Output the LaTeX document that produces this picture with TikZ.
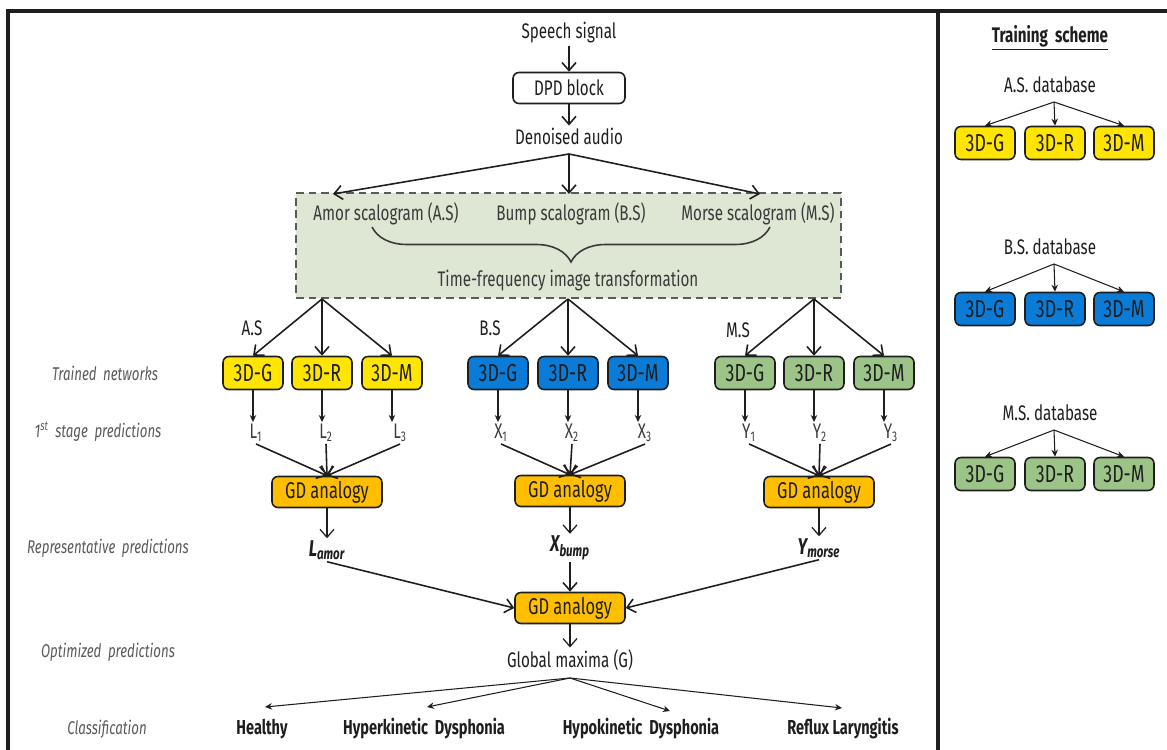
\documentclass[tikz,border=0pt]{standalone}
\usepackage{fontspec}
\setmainfont{Fira Sans}[FakeStretch=0.72]
\usetikzlibrary{arrows.meta,decorations.pathreplacing}

\definecolor{ink}{HTML}{1E1E1E}
\definecolor{soft}{HTML}{3A3A3A}
\definecolor{side}{HTML}{5A5A5A}
\definecolor{boxY}{HTML}{FFE500}
\definecolor{boxB}{HTML}{0A7BD6}
\definecolor{boxG}{HTML}{9CC488}
\definecolor{boxO}{HTML}{FFBF00}
\definecolor{panel}{HTML}{DDE7D3}

\tikzset{
  txt/.style={text=ink, inner sep=1pt, font=\fontsize{12}{14}\selectfont},
  lbl/.style={text=soft, inner sep=1pt, font=\fontsize{12}{14}\selectfont},
  sidelbl/.style={text=side, inner sep=1pt, font=\fontsize{10.5}{12}\selectfont\itshape},
  cls/.style={text=ink, inner sep=1pt, font=\fontsize{11.5}{14}\selectfont\bfseries},
  rep/.style={text=ink, inner sep=1pt, font=\fontsize{13}{15}\selectfont\bfseries\itshape},
  net/.style={draw=ink, line width=0.9pt, rounded corners=1.2mm, minimum width=1.2cm,
    minimum height=0.66cm, inner sep=0pt, text=ink, font=\fontsize{14}{16}\selectfont},
  netY/.style={net, fill=boxY},
  netB/.style={net, fill=boxB},
  netG/.style={net, fill=boxG},
  gdbox/.style={draw=ink, line width=0.9pt, rounded corners=1.2mm, fill=boxO,
    minimum width=2.2cm, minimum height=0.62cm, inner sep=0pt, text=ink,
    font=\fontsize{13}{15}\selectfont},
  dpdbox/.style={draw=ink, line width=0.9pt, rounded corners=1.2mm, fill=white,
    minimum width=2.24cm, minimum height=0.62cm, inner sep=0pt, text=ink,
    font=\fontsize{12}{14}\selectfont},
  arr/.style={draw=ink, line width=0.9pt, -{Straight Barb[length=1.6mm,width=2.8mm]}},
  tarr/.style={draw=ink, line width=0.6pt, -{Stealth[length=1.4mm,width=1.3mm]}},
}

\begin{document}
\begin{tikzpicture}[x=0.02cm, y=-0.02cm]
\useasboundingbox (0,0) rectangle (1167,750);

% outer frame and divider
\draw[ink, line width=2pt] (8,750) -- (8,11) -- (1167,11);
\draw[ink, line width=2pt] (938,11) -- (938,750);

% ---------- main pipeline ----------
\node[txt] (ss) at (569,33) {Speech signal};
\node[dpdbox] (dpd) at (569,88) {DPD block};
\node[txt] (da) at (569,136) {Denoised audio};
\draw[arr] (ss) -- (dpd);
\draw[arr] (dpd) -- (da);

% time-frequency panel
\node[draw=side, dash pattern=on 1.5mm off 1mm, line width=0.8pt, fill=panel,
  minimum width=10.9cm, minimum height=2.1cm] (tf) at (568.5,245.5) {};
\node[lbl] (as) at (386,214) {Amor scalogram (A.S)};
\node[lbl] (bs) at (571,214) {Bump scalogram (B.S)};
\node[lbl] (ms) at (758,214) {Morse scalogram (M.S)};
\draw[soft, line width=0.9pt, decorate, decoration={brace, amplitude=0.7cm}]
  (770,227) -- (372,227);
\node[lbl] (tft) at (568,281) {Time-frequency image transformation};

\coordinate (dsrc) at (569,154);
\coordinate (tA) at (333,194);
\coordinate (tB) at (569,194);
\coordinate (tM) at (760,194);
\draw[arr] (dsrc) -- (tA);
\draw[arr] (dsrc) -- (tB);
\draw[arr] (dsrc) -- (tM);

% fan-out to the trained networks
\coordinate (fa) at (322,299);
\coordinate (fb) at (568,299);
\coordinate (fm) at (814,299);
\node[txt] (labA) at (252,328) {A.S};
\node[txt] (labB) at (490,328) {B.S};
\node[txt] (labM) at (738,330) {M.S};

\node[netY] (AG) at (253,373) {3D-G};
\node[netY] (AR) at (322,373) {3D-R};
\node[netY] (AM) at (392,373) {3D-M};
\node[netB] (BG) at (498,373) {3D-G};
\node[netB] (BR) at (568,373) {3D-R};
\node[netB] (BM) at (638,373) {3D-M};
\node[netG] (MG) at (745,373) {3D-G};
\node[netG] (MR) at (814,373) {3D-R};
\node[netG] (MM) at (884,373) {3D-M};

\foreach \s/\n in {fa/AG, fa/AR, fa/AM, fb/BG, fb/BR, fb/BM, fm/MG, fm/MR, fm/MM}
  \draw[arr] (\s) -- (\n.north);

% first-stage predictions
\node[lbl] (L1) at (256,433) {L\textsubscript{1}};
\node[lbl] (L2) at (326,433) {L\textsubscript{2}};
\node[lbl] (L3) at (400,433) {L\textsubscript{3}};
\node[lbl] (X1) at (501,433) {X\textsubscript{1}};
\node[lbl] (X2) at (572,433) {X\textsubscript{2}};
\node[lbl] (X3) at (645,433) {X\textsubscript{3}};
\node[lbl] (Y1) at (749,433) {Y\textsubscript{1}};
\node[lbl] (Y2) at (820,433) {Y\textsubscript{2}};
\node[lbl] (Y3) at (891,433) {Y\textsubscript{3}};

\foreach \b/\p in {AG/L1, AR/L2, AM/L3, BG/X1, BR/X2, BM/X3, MG/Y1, MR/Y2, MM/Y3}
  \draw[tarr] (\b.south) -- (\b.south |- \p.north);

% group decisions
\node[gdbox] (GA) at (327,492) {GD analogy};
\node[gdbox] (GB) at (570,491) {GD analogy};
\node[gdbox] (GM) at (819,492) {GD analogy};

\foreach \p in {L1, L2, L3} \draw[arr] (\p.south) -- (GA.north);
\foreach \p in {X1, X2, X3} \draw[arr] (\p.south) -- (GB.north);
\foreach \p in {Y1, Y2, Y3} \draw[arr] (\p.south) -- (GM.north);

% representative predictions
\node[rep] (La) at (327,550) {L\textsubscript{amor}};
\node[rep] (Xb) at (570,548) {X\textsubscript{bump}};
\node[rep] (Ym) at (819,548) {Y\textsubscript{morse}};
\draw[arr, line width=0.7pt] (GA.south) -- (La.north);
\draw[arr, line width=0.7pt] (GB.south) -- (Xb.north);
\draw[arr, line width=0.7pt] (GM.south) -- (Ym.north);

% final decision
\node[gdbox] (GF) at (570,608) {GD analogy};
\draw[arr] (La.south) -- (GF.west);
\draw[arr] (Xb.south) -- (GF.north);
\draw[arr] (Ym.south) -- (GF.east);

\node[txt] (gmax) at (570,660) {Global maxima (G)};
\draw[arr, line width=0.7pt] (GF.south) -- (gmax.north);

% classification
\node[cls] (c1) at (262,729) {Healthy};
\node[cls] (c2) at (424,729) {Hyperkinetic\, Dysphonia};
\node[cls] (c3) at (641,729) {Hypokinetic\, Dysphonia};
\node[cls] (c4) at (843,729) {Reflux Laryngitis};
\coordinate (csrc) at (570,678);
\coordinate (k1) at (265,707);
\coordinate (k2) at (427,707);
\coordinate (k3) at (670,711);
\coordinate (k4) at (842,708);
\foreach \k in {k1, k2, k3, k4} \draw[tarr] (csrc) -- (\k);

% stage captions
\node[sidelbl] (s1) at (105,373) {Trained\, networks};
\node[sidelbl] (s2) at (98,432) {1\textsuperscript{st}\, stage\, predictions};
\node[sidelbl] (s3) at (108,548) {Representative\, predictions};
\node[sidelbl] (s4) at (108,652) {Optimized\, predictions};
\node[sidelbl] (s5) at (107,729) {Classification};

% ---------- training scheme ----------
\node[txt, font=\fontsize{12}{14}\selectfont\bfseries] (ts) at (1050,38) {\underline{Training\, scheme}};

\node[txt] (dbA) at (1050,85) {A.S. database};
\coordinate (sA) at (1054,102);
\node[netY] (TAG) at (985,143) {3D-G};
\node[netY] (TAR) at (1055,143) {3D-R};
\node[netY] (TAM) at (1124,143) {3D-M};

\node[txt] (dbB) at (1050,247) {B.S. database};
\coordinate (sB) at (1054,264);
\node[netB] (TBG) at (985,309) {3D-G};
\node[netB] (TBR) at (1055,309) {3D-R};
\node[netB] (TBM) at (1124,309) {3D-M};

\node[txt] (dbM) at (1050,413) {M.S. database};
\coordinate (sM) at (1054,430);
\node[netG] (TMG) at (985,474) {3D-G};
\node[netG] (TMR) at (1055,474) {3D-R};
\node[netG] (TMM) at (1124,474) {3D-M};

\foreach \s/\n in {sA/TAG, sA/TAR, sA/TAM, sB/TBG, sB/TBR, sB/TBM, sM/TMG, sM/TMR, sM/TMM}
  \draw[tarr] (\s) -- (\n.north);
\end{tikzpicture}
\end{document}
